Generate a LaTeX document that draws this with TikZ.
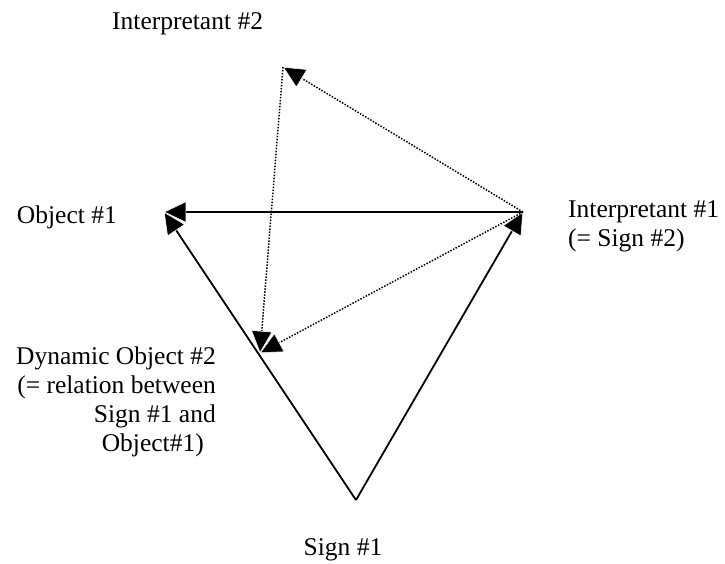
\documentclass[tikz,border=0pt]{standalone}
\usepackage{fontspec}
\setmainfont{Liberation Serif}
\usetikzlibrary{arrows.meta}

\begin{document}
\begin{tikzpicture}[x=1pt,y=-1pt,
  lbl/.style={inner sep=0pt,font=\fontsize{25.5}{29}\selectfont},
  ar/.style={-{Triangle[length=22pt,width=21pt,fill=black,color=white,line width=0.5pt]},line width=1.8pt},
  dar/.style={ar,line width=1.5pt,dash pattern=on 1.5pt off 1.5pt}]
\useasboundingbox (0,0) rectangle (725,563);
\coordinate (S1) at (356,500);
\coordinate (O1) at (164,212);
\coordinate (I1) at (523,212);
\coordinate (I2) at (283,67);
\coordinate (D2) at (260,353);
\node[lbl,anchor=base east] (obj) at (117,223) {Object \#1};
\node[lbl,anchor=base west] (int2) at (112,29) {Interpretant \#2};
\node[lbl,anchor=base west,align=left] (int1) at (568,246) {Interpretant \#1\\(= Sign \#2)};
\node[lbl,anchor=base east,align=right] (dyn) at (216,451) {Dynamic Object \#2\\(= relation between\\Sign \#1 and\\Object\#1)\hspace*{12pt}};
\node[lbl,anchor=base] (sign) at (343,555) {Sign \#1};
\draw[ar] (S1) -- (O1);
\draw[ar] (I1) -- (O1);
\draw[ar] (S1) -- (I1);
\draw[dar] (I1) -- (I2);
\draw[dar] (I2) -- (D2);
\draw[dar] (I1) -- (D2);
\end{tikzpicture}
\end{document}
